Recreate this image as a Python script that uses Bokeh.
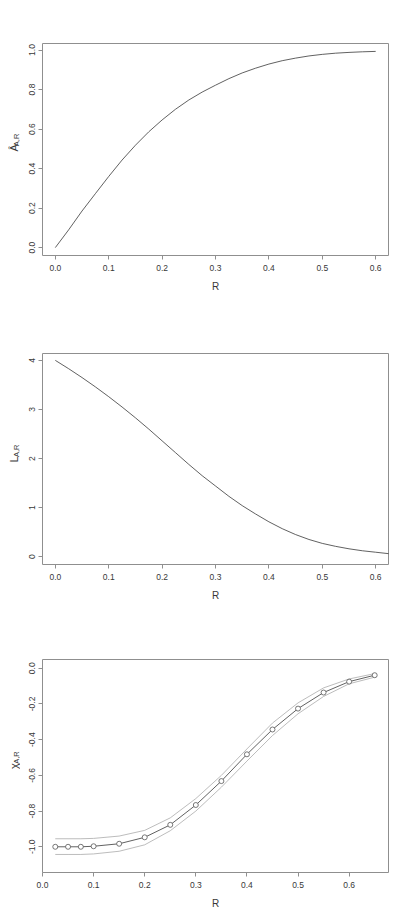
from math import pi

from bokeh.plotting import figure
from bokeh.layouts import column, row
from bokeh.models import FixedTicker
from bokeh.core.properties import value
from bokeh.embed import file_html
from bokeh.resources import INLINE

# panel 1: A_{A,R} against R
r1 = [0.0, 0.025, 0.05, 0.075, 0.1, 0.125, 0.15, 0.175, 0.2, 0.225, 0.25, 0.275, 0.3,
      0.325, 0.35, 0.375, 0.4, 0.425, 0.45, 0.475, 0.5, 0.525, 0.55, 0.575, 0.6]
a1 = [0.0, 0.09, 0.185, 0.273, 0.36, 0.443, 0.518, 0.586, 0.646, 0.70, 0.747, 0.787, 0.822,
      0.855, 0.884, 0.908, 0.929, 0.946, 0.959, 0.970, 0.978, 0.984, 0.988, 0.991, 0.993]

# panel 2: L_{A,R} against R
r2 = [0.0, 0.025, 0.05, 0.075, 0.1, 0.125, 0.15, 0.175, 0.2, 0.225, 0.25, 0.275, 0.3,
      0.325, 0.35, 0.375, 0.4, 0.425, 0.45, 0.475, 0.5, 0.525, 0.55, 0.575, 0.6, 0.625]
l2 = [4.0, 3.83, 3.65, 3.46, 3.26, 3.05, 2.83, 2.60, 2.36, 2.12, 1.88, 1.65, 1.44,
      1.23, 1.04, 0.87, 0.71, 0.57, 0.45, 0.35, 0.27, 0.21, 0.16, 0.12, 0.09, 0.06]

# panel 3: chi_{A,R} with band
r3 = [0.025, 0.05, 0.075, 0.1, 0.15, 0.2, 0.25, 0.3, 0.35, 0.4, 0.45, 0.5, 0.55, 0.6, 0.65]
chi = [-1.0, -1.0, -1.0, -0.997, -0.983, -0.947, -0.877, -0.766, -0.632, -0.482, -0.343,
       -0.226, -0.136, -0.075, -0.039]
chi_hi = [-0.955, -0.955, -0.955, -0.953, -0.94, -0.908, -0.838, -0.73, -0.60, -0.452, -0.307,
          -0.194, -0.11, -0.06, -0.03]
chi_lo = [-1.043, -1.043, -1.043, -1.04, -1.025, -0.989, -0.91, -0.80, -0.666, -0.52, -0.377,
          -0.255, -0.158, -0.087, -0.05]

xt12 = [0.0, 0.1, 0.2, 0.3, 0.4, 0.5, 0.6]
xt12_lab = ["0.0", "0.1", "0.2", "0.3", "0.4", "0.5", "0.6"]
yt1 = [0.0, 0.2, 0.4, 0.6, 0.8, 1.0]
yt1_lab = ["0.0", "0.2", "0.4", "0.6", "0.8", "1.0"]
yt2 = [0, 1, 2, 3, 4]
yt2_lab = ["0", "1", "2", "3", "4"]
yt3 = [-1.0, -0.8, -0.6, -0.4, -0.2, 0.0]
yt3_lab = ["-1.0", "-0.8", "-0.6", "-0.4", "-0.2", "0.0"]

FONT = "Liberation Sans"
BOX = "#8f8f8f"
INK = "#383838"
W, LW, LEFT, RIGHT = 409, 20, 42, 21


def ylabel_strip(h, top, bottom, main, sub):
    # narrow figure holding the rotated y label with its subscript
    f = figure(width=LW, height=h, x_range=(0, LW), y_range=(0, h),
               output_backend="svg", toolbar_location=None,
               x_axis_type=None, y_axis_type=None,
               min_border_left=0, min_border_right=0, min_border_top=0, min_border_bottom=0)
    f.grid.visible = False
    f.outline_line_color = None
    fh = h - top - bottom
    y0 = bottom + fh / 2 - 8
    f.text(x=[13.5], y=[y0], text=[main], angle=pi / 2, text_font=value(FONT),
           text_font_size="11px", text_color=INK, text_align="left",
           text_baseline="alphabetic")
    f.text(x=[15.5], y=[y0 + 7.8], text=[sub], angle=pi / 2, text_font=value(FONT),
           text_font_size="7.5px", text_color=INK, text_align="left",
           text_baseline="alphabetic")
    return f


def panel(h, top, bottom, xr, yr, xt, xlab, yt, ylab):
    p = figure(width=W - LW, height=h, x_range=xr, y_range=yr,
               output_backend="svg", toolbar_location=None,
               min_border_left=LEFT - LW, min_border_right=RIGHT,
               min_border_top=top, min_border_bottom=bottom)
    p.grid.visible = False
    p.outline_line_color = BOX
    p.outline_line_width = 1
    for ax, ticks, labs in ((p.xaxis, xt, xlab), (p.yaxis, yt, ylab)):
        ax.ticker = FixedTicker(ticks=ticks)
        ax.major_label_overrides = {t: s for t, s in zip(ticks, labs)}
        ax.axis_line_color = None
        ax.major_tick_line_color = BOX
        ax.major_tick_in = 0
        ax.major_tick_out = 4
        ax.minor_tick_line_color = None
        ax.major_label_text_font = FONT
        ax.major_label_text_font_size = "8.5px"
        ax.major_label_text_color = INK
    p.yaxis.major_label_orientation = "vertical"
    p.yaxis.major_label_standoff = 3
    p.xaxis.major_label_standoff = 5
    p.xaxis.axis_label = "R"
    p.xaxis.axis_label_text_font = FONT
    p.xaxis.axis_label_text_font_size = "10px"
    p.xaxis.axis_label_text_font_style = "normal"
    p.xaxis.axis_label_text_color = INK
    p.xaxis.axis_label_standoff = 7
    return p


p1 = panel(308, 43, 53, (-0.024, 0.624), (-0.04, 1.033), xt12, xt12_lab, yt1, yt1_lab)
p1.line(r1, a1, line_color=INK, line_width=0.8)
s1 = ylabel_strip(308, 43, 53, "\u00c2", "A,R")

p2 = panel(307, 45, 51, (-0.024, 0.624), (-0.16, 4.14), xt12, xt12_lab, yt2, yt2_lab)
p2.line(r2, l2, line_color=INK, line_width=0.8)
s2 = ylabel_strip(307, 45, 51, "L", "A,R")

p3 = panel(308, 44, 51, (0.0, 0.677), (-1.144, 0.049), xt12, xt12_lab, yt3, yt3_lab)
p3.line(r3, chi_hi, line_color="#ababab", line_width=0.8)
p3.line(r3, chi_lo, line_color="#ababab", line_width=0.8)
p3.line(r3, chi, line_color=INK, line_width=0.8)
p3.scatter(r3, chi, marker="circle", size=5, fill_color="white", line_color="#555555",
           line_width=0.8)
s3 = ylabel_strip(308, 44, 51, "\u03c7", "A,R")

layout = column(row(s1, p1, spacing=0), row(s2, p2, spacing=0), row(s3, p3, spacing=0),
                spacing=0)
open("out.html", "w").write(file_html(layout, INLINE))
